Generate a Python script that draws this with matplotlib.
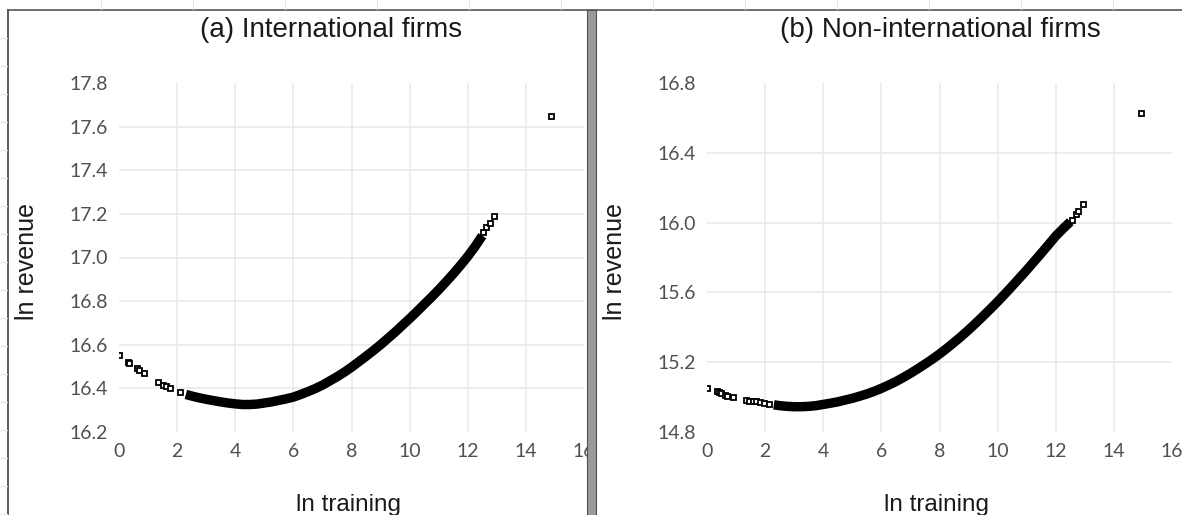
import matplotlib
matplotlib.use("Agg")
import matplotlib.pyplot as plt
from matplotlib.lines import Line2D
from matplotlib.patches import Rectangle

# panel (a): international firms
a_sparse_x = [0.0, 0.30, 0.36, 0.63, 0.70, 0.86, 1.35, 1.52, 1.62, 1.75, 2.10]
a_sparse_y = [16.553, 16.520, 16.516, 16.492, 16.486, 16.469, 16.430, 16.416, 16.409, 16.400, 16.382]
a_x = [2.3, 2.5, 2.75, 3.0, 3.25, 3.5, 3.75, 4.0, 4.25, 4.5, 4.75, 5.0, 5.25, 5.5, 5.75,
       6.0, 6.25, 6.5, 6.75, 7.0, 7.25, 7.5, 7.75, 8.0, 8.25, 8.5, 8.75, 9.0, 9.25, 9.5,
       9.75, 10.0, 10.25, 10.5, 10.75, 11.0, 11.25, 11.5, 11.75, 12.0, 12.25, 12.5]
a_y = [16.372, 16.365, 16.357, 16.350, 16.344, 16.338, 16.333, 16.329, 16.326, 16.326,
       16.328, 16.333, 16.338, 16.345, 16.352, 16.360, 16.372, 16.385, 16.399, 16.415,
       16.434, 16.453, 16.474, 16.497, 16.522, 16.547, 16.573, 16.600, 16.629, 16.658,
       16.689, 16.720, 16.752, 16.785, 16.818, 16.852, 16.888, 16.925, 16.964, 17.005,
       17.050, 17.100]
a_end_x = [12.52, 12.64, 12.75, 12.89, 14.88]
a_end_y = [17.118, 17.142, 17.157, 17.192, 17.650]

# panel (b): non-international firms
b_sparse_x = [0.01, 0.33, 0.40, 0.47, 0.62, 0.70, 0.91, 1.34, 1.45, 1.57, 1.70, 1.82, 1.96, 2.14]
b_sparse_y = [15.050, 15.035, 15.028, 15.022, 15.012, 15.008, 14.999, 14.983, 14.980,
              14.978, 14.975, 14.972, 14.964, 14.960]
b_x = a_x
b_y = [14.956, 14.951, 14.947, 14.945, 14.945, 14.947, 14.951, 14.958, 14.965, 14.973,
       14.983, 14.993, 15.005, 15.018, 15.033, 15.050, 15.069, 15.089, 15.112, 15.136,
       15.162, 15.189, 15.217, 15.247, 15.279, 15.313, 15.348, 15.385, 15.424, 15.464,
       15.505, 15.547, 15.591, 15.636, 15.682, 15.728, 15.776, 15.824, 15.873, 15.923,
       15.965, 16.005]
b_end_x = [12.55, 12.70, 12.76, 12.93, 14.94]
b_end_y = [16.015, 16.049, 16.068, 16.107, 16.628]

x_ticks = [0, 2, 4, 6, 8, 10, 12, 14, 16]
a_yticks = [16.2, 16.4, 16.6, 16.8, 17.0, 17.2, 17.4, 17.6, 17.8]
b_yticks = [14.8, 15.2, 15.6, 16.0, 16.4, 16.8]

titles = ["(a) International firms", "(b) Non-international firms"]

W, H = 1182, 515
fig = plt.figure(figsize=(W / 100, H / 100), dpi=100)

tick_font = "Lato"
lab_font = "Liberation Sans"

panels = [
    (119, a_sparse_x, a_sparse_y, a_x, a_y, a_end_x, a_end_y, a_yticks),
    (707, b_sparse_x, b_sparse_y, b_x, b_y, b_end_x, b_end_y, b_yticks),
]

for i, (left, sx, sy, dx, dy, ex, ey, yt) in enumerate(panels):
    ax = fig.add_axes([left / W, (H - 432) / H, 465 / W, 349 / H])
    ax.set_xlim(0, 16)
    ax.set_ylim(yt[0], yt[-1])
    ax.set_xticks(x_ticks)
    ax.set_yticks(yt)
    ax.set_xticklabels([str(t) for t in x_ticks])
    ax.set_yticklabels([f"{t:.1f}" for t in yt])
    for s in ax.spines.values():
        s.set_visible(False)
    ax.tick_params(length=0, pad=8, labelsize=14, labelcolor="#505050")
    for lab in ax.get_xticklabels() + ax.get_yticklabels():
        lab.set_fontfamily(tick_font)
    ax.grid(True, color="#e8e8e8", lw=1.1)
    for gl in [ax.xaxis.get_gridlines()[0], ax.xaxis.get_gridlines()[-1],
               ax.yaxis.get_gridlines()[0], ax.yaxis.get_gridlines()[-1]]:
        gl.set_visible(False)
    ax.set_axisbelow(True)

    mk = dict(ls="none", marker="s", ms=3.6, mfc="white", mec="black", mew=1.3)
    ax.plot(dx, dy, color="black", lw=6.8, solid_capstyle="butt", zorder=3)
    ax.plot(sx, sy, zorder=4, **mk)
    ax.plot(ex, ey, zorder=4, **mk)

    cx = (left + 212) / W if i == 0 else (left + 233) / W
    fig.text(cx, 1 - 30 / H, titles[i], ha="center", va="center",
             fontsize=20, family=lab_font, color="#1a1a1a")
    fig.text((left - 92) / W, 1 - 262 / H, "ln revenue", rotation=90,
             ha="center", va="center", fontsize=18, family=lab_font, color="#1a1a1a")
    fig.text((left + 230) / W, 1 - 505 / H, "ln training", ha="center", va="center",
             fontsize=17.5, family=lab_font, color="#1a1a1a")

# chart frames (cropped spreadsheet objects) and faint cell-grid stubs around them
fig.add_artist(Line2D([8 / W, 8 / W], [0, 1 - 10 / H], color="#404040", lw=1.2))
fig.add_artist(Line2D([8 / W, 1], [1 - 10 / H, 1 - 10 / H], color="#555555", lw=1.2))
for k in range(13):
    px = 101 + 92 * k
    if abs(px - 590) > 12:
        fig.add_artist(Line2D([px / W, px / W], [1, 1 - 9 / H], color="#e4e4e4", lw=0.8))
for k in range(18):
    py = 38 + 28 * k
    fig.add_artist(Line2D([0, 7 / W], [1 - py / H, 1 - py / H], color="#e4e4e4", lw=0.8))
fig.add_artist(Rectangle((587 / W, 0), 9 / W, 1 - 10 / H, facecolor="#9a9a9a",
                         edgecolor="#505050", lw=0.8, zorder=10))

fig.savefig("out.png", dpi=100, facecolor="white")
